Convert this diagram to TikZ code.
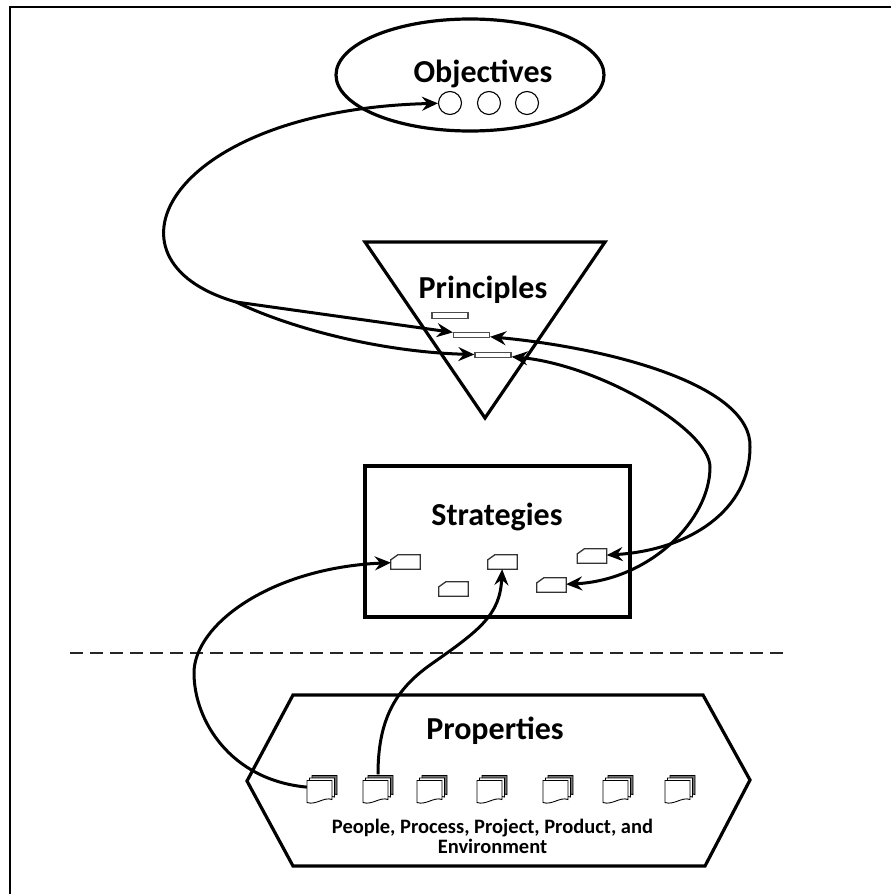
\documentclass[tikz,border=0pt]{standalone}
\usepackage{fontspec}
\setmainfont{Carlito}
\usetikzlibrary{arrows.meta,shapes.geometric}
\begin{document}
\begin{tikzpicture}[x=1pt,y=-1pt,
  thickline/.style={line width=3.2pt},
  mytip/.tip={Stealth[length=16pt,width=14pt,inset=5.5pt]},
  conn/.style={line width=3pt,-mytip},
  biconn/.style={line width=3pt,mytip-mytip},
  ttl/.style={font=\bfseries\fontsize{32}{34}\selectfont,anchor=base,inner sep=0pt},
  captext/.style={font=\bfseries\fontsize{20.5}{22}\selectfont,anchor=base,inner sep=0pt},
  dot/.style={circle,draw,line width=1.1pt,minimum size=23pt,inner sep=0pt},
  prect/.style={rectangle,draw=black!70,line width=1.3pt,minimum width=36pt,minimum height=5.5pt,inner sep=0pt},
  sbox/.style={rectangle,minimum width=29pt,minimum height=14pt,inner sep=0pt},
  dbox/.style={rectangle,minimum width=30pt,minimum height=28pt,inner sep=0pt},
  page/.style={line width=0.9pt},
  docpage/.pic={\path[pic actions] (0,0) -- (25,0) -- (25,19) .. controls (17,16) and (9,25) .. (0,22) -- cycle;},
]
\useasboundingbox (0,0) rectangle (891,894);
% frame
\draw[line width=2pt] (10,894) -- (10,7) -- (891,7);

% Objectives
\node[ellipse,draw,thickline,minimum width=268pt,minimum height=112pt,inner sep=0pt] (obj) at (470,75) {};
\node[ttl] (objt) at (483,82) {Objectives};
\node[dot] (c1) at (450,103) {};
\node[dot] (c2) at (489,103) {};
\node[dot] (c3) at (527,103) {};

% Principles
\draw[thickline,line join=miter] (365,242) -- (605,242) -- (485,418) -- cycle;
\node[ttl] (prt) at (483,298) {Principles};
\node[prect] (p1) at (450,315.5) {};
\node[prect] (p2) at (471.5,335) {};
\node[prect] (p3) at (493,355) {};

% Strategies
\node[draw,thickline,minimum width=265pt,minimum height=151pt,inner sep=0pt] (strat) at (497.5,541.5) {};
\node[ttl] (stt) at (497,525) {Strategies};
\node[sbox] (s1) at (405.5,562) {};
\node[sbox] (s2) at (453.5,589) {};
\node[sbox] (s3) at (502.5,562) {};
\node[sbox] (s4) at (592,556) {};
\node[sbox] (s5) at (551.5,585) {};
\foreach \s in {s1,s2,s3,s4,s5}{
  \draw[line width=1.3pt,draw=black!80] (\s.south west) -- (\s.south east) -- (\s.north east)
    -- ([xshift=7pt]\s.north west) -- ([yshift=-5pt]\s.north west) -- cycle;
}

% separator
\draw[line width=1.5pt,draw=black!85,dash pattern=on 13pt off 7pt] (70,653) -- (790,653);

% Properties
\draw[thickline,line join=miter] (293,695) -- (703,695) -- (750,780) -- (705,866) -- (293,866) -- (247,781) -- cycle;
\node[ttl] (pt) at (495,739) {Properties};
\foreach \x [count=\i] in {307,363,417,477,543,603,665}{
  \node[dbox] (d\i) at (\x+15,788.5) {};
  \pic[draw,fill=black!55,page] at (\x+5,775.5) {docpage};
  \pic[draw,fill=white,page] at (\x+2.5,778) {docpage};
  \pic[draw,fill=white,page] at (\x,780.5) {docpage};
}
\node[captext] (cap1) at (492.5,833) {People, Process, Project, Product, and};
\node[captext] (cap2) at (492.5,853) {Environment};

% connectors
\coordinate (J) at (236,302);
\draw[conn] (J) .. controls (90,260) and (170,110) .. (c1);
\draw[conn] (J) -- (p2);
\draw[conn] (J) .. controls (290,328) and (380,352) .. (p3);
\draw[biconn] (p2) .. controls (610,348) and (752,385) .. (750,447) .. controls (750,510) and (690,550) .. (s4);
\draw[biconn] (p3) .. controls (600,365) and (710,430) .. (710,467) .. controls (710,520) and (650,580) .. (s5);
\draw[conn] (d1) .. controls (230,780) and (194,720) .. (194,673) .. controls (194,625) and (270,568) .. (s1);
\draw[conn] (d2.north) .. controls (378,720) and (395,690) .. (430,665) .. controls (480,630) and (500,615) .. (s3);
\end{tikzpicture}
\end{document}
